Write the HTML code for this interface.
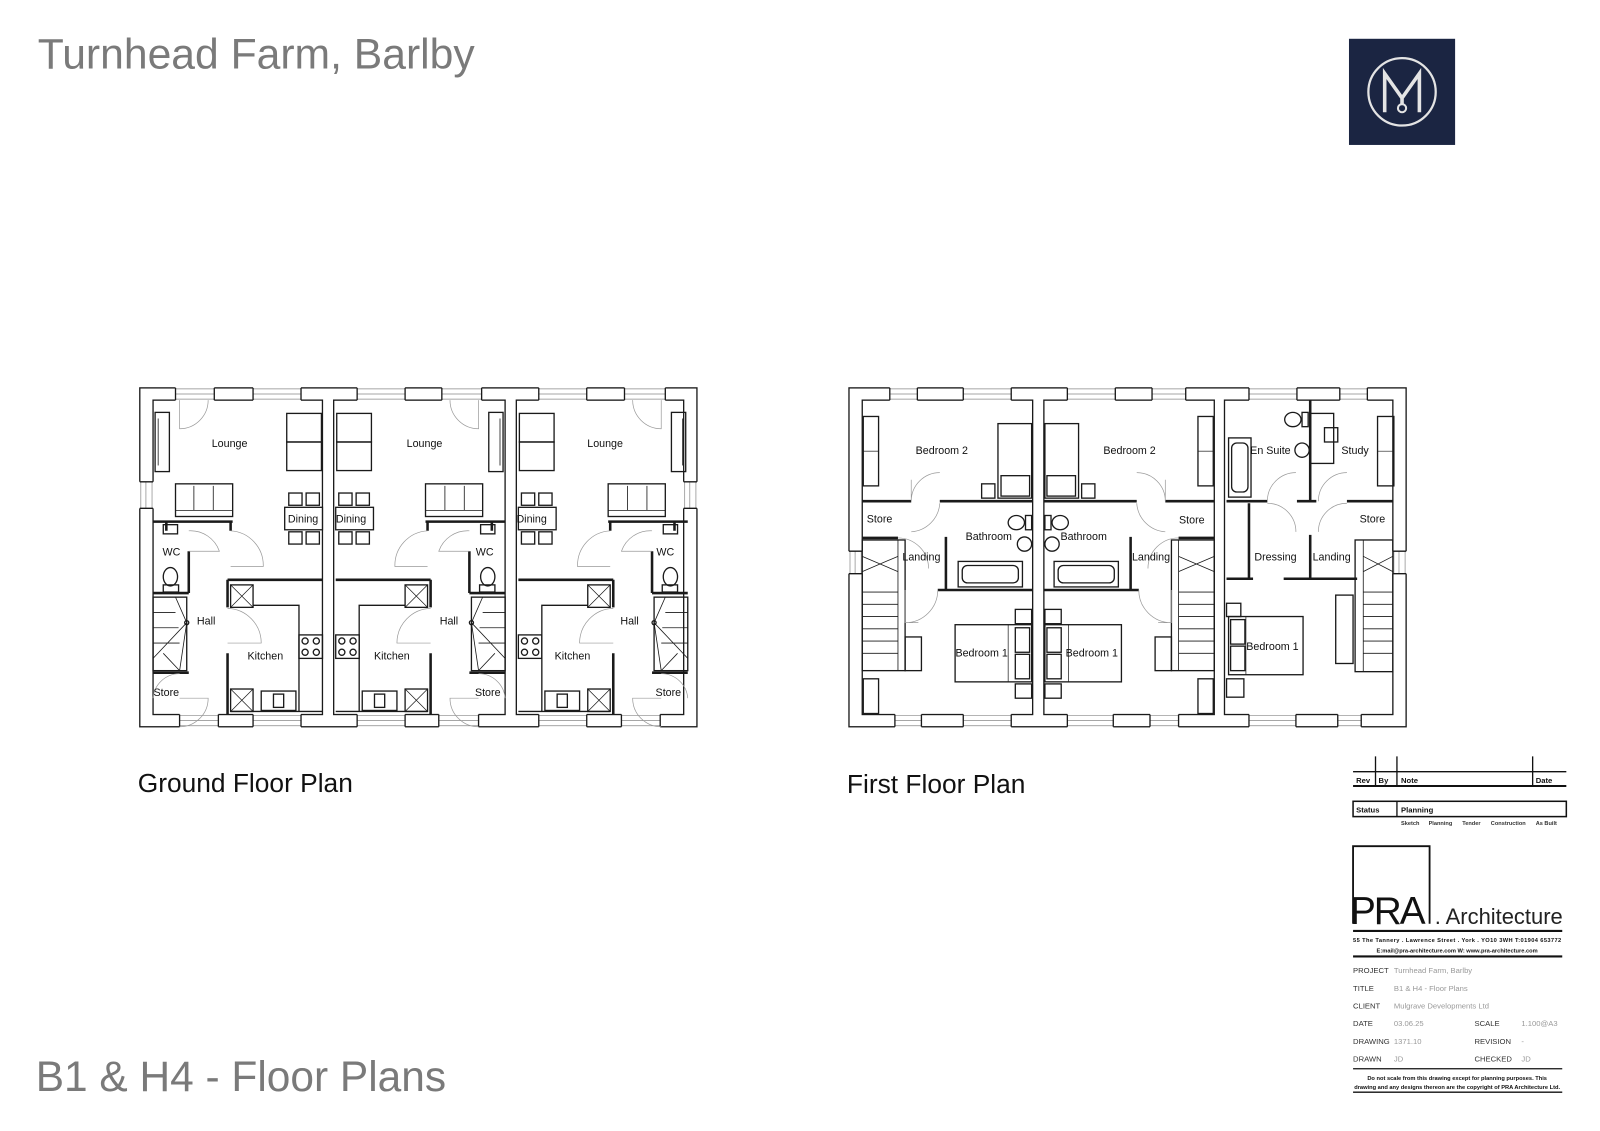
<!DOCTYPE html>
<html><head><meta charset="utf-8"><style>
html,body{margin:0;padding:0;background:#fff;}
svg{display:block;}
text{font-family:"Liberation Sans",Arial,sans-serif;}
</style></head><body>
<svg width="1600" height="1131" viewBox="0 0 1568 1108" preserveAspectRatio="none" xmlns="http://www.w3.org/2000/svg">
<rect width="1568" height="1108" fill="#fff"/>
<text x="37" y="67" font-size="41.8" fill="#7a7a7a">Turnhead Farm, Barlby</text>
<text x="35" y="1069" font-size="41.6" fill="#7a7a7a">B1 &amp; H4 - Floor Plans</text>
<text x="135" y="776" font-size="25.8" fill="#111">Ground Floor Plan</text>
<text x="830" y="777" font-size="25.8" fill="#111">First Floor Plan</text>

<!-- logo -->
<rect x="1322" y="38" width="104" height="104" fill="#1b2542"/>
<circle cx="1374" cy="90" r="33" fill="none" stroke="#e4e4e4" stroke-width="2.2"/>
<path d="M1357,110 V72 L1374,96 L1391,72 V110 M1374,96 V103" fill="none" stroke="#e4e4e4" stroke-width="3.5"/>
<circle cx="1374" cy="106" r="4" fill="none" stroke="#e4e4e4" stroke-width="2"/>

<g fill="none" stroke="#1a1a1a" stroke-width="1.3">
<!-- ========== GROUND FLOOR ========== -->
<rect x="137" y="380" width="546" height="332"/>
<rect x="150" y="392" width="166" height="308"/>
<rect x="327" y="392" width="168" height="308"/>
<rect x="506" y="392" width="164" height="308"/>
<path fill="#fff" stroke="none" d="M172,379h38v14h-38z M248,379h47v14h-47z M350,379h47v14h-47z M433,379h39v14h-39z M528,379h47v14h-47z M612,379h40v14h-40z M176,699h38v14h-38z M248,699h47v14h-47z M350,699h47v14h-47z M430,699h39v14h-39z M528,699h47v14h-47z M609,699h38v14h-38z M136,472h15v26h-15z M669,472h15v26h-15z"/>
<path stroke="#888" stroke-width="0.7" d="M172,381H210M172,386H210M172,391H210 M248,381H295M248,386H295M248,391H295 M350,381H397M350,386H397M350,391H397 M433,381H472M433,386H472M433,391H472 M528,381H575M528,386H575M528,391H575 M612,381H652M612,386H652M612,391H652 M176,701H214M176,706H214M176,711H214 M248,701H295M248,706H295M248,711H295 M350,701H397M350,706H397M350,711H397 M430,701H469M430,706H469M430,711H469 M528,701H575M528,706H575M528,711H575 M609,701H647M609,706H647M609,711H647 M138,472V498M143,472V498M149,472V498 M671,472V498M676,472V498M682,472V498"/>
<path d="M172,380V392M210,380V392M248,380V392M295,380V392M350,380V392M397,380V392M433,380V392M472,380V392M528,380V392M575,380V392M612,380V392M652,380V392 M176,700V712M214,700V712M248,700V712M295,700V712M350,700V712M397,700V712M430,700V712M469,700V712M528,700V712M575,700V712M609,700V712M647,700V712 M137,472H150M137,498H150M670,472H683M670,498H683"/>

<g id="gu">
 <path stroke="#999" stroke-width="0.7" d="M176,392V420 A28,28 0 0 0 204,392"/>
 <rect x="152" y="404" width="14" height="58"/>
 <path stroke-width="0.8" d="M155,410V456"/>
 <rect x="281" y="405" width="34" height="28"/><rect x="281" y="433" width="34" height="28"/>
 <rect x="172" y="474" width="56" height="32"/><path stroke-width="0.8" d="M172,500H228M190,476V500M209,476V500"/>
 <rect x="279" y="497" width="37" height="22" fill="#fff"/>
 <rect x="283" y="483" width="13" height="12"/><rect x="300" y="483" width="13" height="12"/>
 <rect x="283" y="521" width="13" height="12"/><rect x="300" y="521" width="13" height="12"/>
 <path stroke-width="2.5" d="M150,511H228M163,511V520M226,511V520M185,540V581M150,581H185M223,568H316M223,568V595M223,640V700M150,659H185"/>
 <rect x="160" y="514" width="14" height="9"/>
 <ellipse cx="167" cy="565" rx="7" ry="9"/><rect x="160" y="573" width="15" height="7"/>
 <path stroke="#999" stroke-width="0.7" d="M185,540 H215 A30,30 0 0 0 185,520 M226,520 A34,34 0 0 1 258,555 H226 M223,596 A34,34 0 0 1 256,630 H223 M150,684 A26,26 0 0 1 176,660 M176,712 A28,28 0 0 0 204,684 H176"/>
 <rect x="226" y="573" width="22" height="22"/><path stroke-width="0.7" d="M226,573L248,595M248,573L226,595 M226,675L248,697M248,675L226,697"/>
 <rect x="226" y="675" width="22" height="22"/>
 <path d="M248,593H293V697 M226,697H316"/>
 <rect x="293" y="622" width="23" height="23"/>
 <circle cx="299" cy="628" r="3"/><circle cx="310" cy="628" r="3"/><circle cx="299" cy="639" r="3"/><circle cx="310" cy="639" r="3"/>
 <rect x="256" y="677" width="34" height="19"/><rect x="268" y="680" width="10" height="13"/>
 <rect x="150" y="585" width="33" height="72"/>
 <path stroke-width="0.8" d="M150,600H172M150,615H175M150,630H176M172,585L183,610L176,657M183,610L150,645M176,657L160,640"/>
 <circle cx="183" cy="610" r="2"/>
</g>
<use href="#gu" transform="translate(645,0) scale(-1,1)"/>
<use href="#gu" transform="translate(824,0) scale(-1,1)"/>
</g>
<g font-size="10.5" fill="#111">
<text x="225" y="438" text-anchor="middle">Lounge</text>
<text x="416" y="438" text-anchor="middle">Lounge</text>
<text x="593" y="438" text-anchor="middle">Lounge</text>
<text x="297" y="512" text-anchor="middle">Dining</text>
<text x="344" y="512" text-anchor="middle">Dining</text>
<text x="521" y="512" text-anchor="middle">Dining</text>
<text x="168" y="544" text-anchor="middle">WC</text>
<text x="475" y="544" text-anchor="middle">WC</text>
<text x="652" y="544" text-anchor="middle">WC</text>
<text x="202" y="612" text-anchor="middle">Hall</text>
<text x="440" y="612" text-anchor="middle">Hall</text>
<text x="617" y="612" text-anchor="middle">Hall</text>
<text x="260" y="646" text-anchor="middle">Kitchen</text>
<text x="384" y="646" text-anchor="middle">Kitchen</text>
<text x="561" y="646" text-anchor="middle">Kitchen</text>
<text x="163" y="682" text-anchor="middle">Store</text>
<text x="478" y="682" text-anchor="middle">Store</text>
<text x="655" y="682" text-anchor="middle">Store</text>
</g>

<g fill="none" stroke="#1a1a1a" stroke-width="1.3">
<!-- ========== FIRST FLOOR ========== -->
<rect x="832" y="380" width="546" height="332"/>
<rect x="845" y="392" width="167" height="308"/>
<rect x="1023" y="392" width="167" height="308"/>
<rect x="1200" y="392" width="165" height="308"/>
<path fill="#fff" stroke="none" d="M872,379h27v14h-27z M944,379h47v14h-47z M1046,379h47v14h-47z M1129,379h33v14h-33z M1224,379h47v14h-47z M1313,379h27v14h-27z M877,699h26v14h-26z M944,699h47v14h-47z M1046,699h45v14h-45z M1127,699h28v14h-28z M1224,699h46v14h-46z M1311,699h23v14h-23z M831,540h15v22h-15z M1364,540h15v22h-15z"/>
<path stroke="#888" stroke-width="0.7" d="M872,381H899M872,386H899M872,391H899 M944,381H991M944,386H991M944,391H991 M1046,381H1093M1046,386H1093M1046,391H1093 M1129,381H1162M1129,386H1162M1129,391H1162 M1224,381H1271M1224,386H1271M1224,391H1271 M1313,381H1340M1313,386H1340M1313,391H1340 M877,701H903M877,706H903M877,711H903 M944,701H991M944,706H991M944,711H991 M1046,701H1091M1046,706H1091M1046,711H1091 M1127,701H1155M1127,706H1155M1127,711H1155 M1224,701H1270M1224,706H1270M1224,711H1270 M1311,701H1334M1311,706H1334M1311,711H1334 M833,540V562M838,540V562M844,540V562 M1366,540V562M1371,540V562M1377,540V562"/>
<path d="M872,380V392M899,380V392M944,380V392M991,380V392M1046,380V392M1093,380V392M1129,380V392M1162,380V392M1224,380V392M1271,380V392M1313,380V392M1340,380V392 M877,700V712M903,700V712M944,700V712M991,700V712M1046,700V712M1091,700V712M1127,700V712M1155,700V712M1224,700V712M1270,700V712M1311,700V712M1334,700V712 M832,540H845M832,562H845M1365,540H1378M1365,562H1378"/>

<g id="fu">
 <path stroke-width="2.5" d="M845,491H893M921,491H1012M845,527H880M927,526V578M919,578H1012"/>
 <rect x="846" y="408" width="15" height="68"/><path stroke-width="0.7" d="M846,442H861"/>
 <rect x="978" y="415" width="33" height="73"/><rect x="981" y="466" width="28" height="20"/>
 <rect x="962" y="474" width="13" height="14"/>
 <rect x="939" y="550" width="63" height="25"/><rect x="943" y="554" width="55" height="17" rx="5"/>
 <ellipse cx="996" cy="512" rx="8" ry="7"/><rect x="1005" y="505" width="6" height="14"/>
 <ellipse cx="1004" cy="533" rx="7" ry="7"/>
 <rect x="845" y="529" width="42" height="128"/>
 <path stroke-width="0.8" d="M880,529V657 M845,580H880M845,592H880M845,604H880M845,616H880M845,628H880M845,640H880 M845,545L880,560M845,560L880,545"/>
 <rect x="887" y="624" width="16" height="33"/>
 <rect x="846" y="665" width="15" height="34"/>
 <rect x="936" y="612" width="75" height="56"/><rect x="995" y="615" width="14" height="24"/><rect x="995" y="641" width="14" height="24"/>
 <path stroke-width="0.7" d="M988,612V668"/>
 <rect x="995" y="597" width="16" height="14"/><rect x="995" y="670" width="16" height="14"/>
 <path stroke="#999" stroke-width="0.7" d="M893,491 A28,28 0 0 1 921,463 M893,491 V470 M921,493 A30,30 0 0 1 893,521 M880,527 A30,30 0 0 1 910,557 M919,578 A32,32 0 0 1 887,610 M887,578 V610 H900"/>
</g>
<use href="#fu" transform="translate(2035,0) scale(-1,1)"/>

<!-- unit 3 first floor -->
<path stroke-width="2.5" d="M1284,392V491 M1202,491H1242M1271,491H1290M1320,491H1365 M1224,493V566 M1202,567H1228 M1284,524V566 M1258,567H1330"/>
<rect x="1204" y="429" width="22" height="58"/><rect x="1207" y="434" width="16" height="48" rx="5"/>
<ellipse cx="1267" cy="411" rx="8" ry="7"/><rect x="1276" y="404" width="6" height="14"/>
<ellipse cx="1276" cy="441" rx="7" ry="7"/>
<rect x="1284" y="405" width="23" height="49"/><rect x="1298" y="419" width="13" height="14"/>
<rect x="1350" y="408" width="16" height="68"/><path stroke-width="0.7" d="M1350,442H1366"/>
<rect x="1328" y="529" width="37" height="129"/>
<path stroke-width="0.8" d="M1336,529V658 M1336,580H1365M1336,592H1365M1336,604H1365M1336,616H1365M1336,628H1365M1336,640H1365 M1336,545L1365,560M1336,560L1365,545"/>
<rect x="1309" y="583" width="17" height="67"/>
<rect x="1204" y="604" width="73" height="57"/><rect x="1206" y="607" width="14" height="24"/><rect x="1206" y="633" width="14" height="24"/>
<path stroke-width="0.7" d="M1221,604V661"/>
<rect x="1202" y="591" width="14" height="13"/><rect x="1202" y="665" width="17" height="18"/>
<path stroke="#999" stroke-width="0.7" d="M1242,491 A28,28 0 0 1 1270,463 M1292,491 A28,28 0 0 1 1320,463 M1242,493 A28,28 0 0 1 1270,521 M1320,493 A28,28 0 0 0 1292,521"/>
</g>
<g font-size="10.5" fill="#111">
<text x="923" y="445" text-anchor="middle">Bedroom 2</text>
<text x="1107" y="445" text-anchor="middle">Bedroom 2</text>
<text x="862" y="512" text-anchor="middle">Store</text>
<text x="1168" y="513" text-anchor="middle">Store</text>
<text x="1345" y="512" text-anchor="middle">Store</text>
<text x="969" y="529" text-anchor="middle">Bathroom</text>
<text x="1062" y="529" text-anchor="middle">Bathroom</text>
<text x="903" y="549" text-anchor="middle">Landing</text>
<text x="1128" y="549" text-anchor="middle">Landing</text>
<text x="1305" y="549" text-anchor="middle">Landing</text>
<text x="1250" y="549" text-anchor="middle">Dressing</text>
<text x="962" y="643" text-anchor="middle">Bedroom 1</text>
<text x="1070" y="643" text-anchor="middle">Bedroom 1</text>
<text x="1247" y="637" text-anchor="middle">Bedroom 1</text>
<text x="1245" y="445" text-anchor="middle">En Suite</text>
<text x="1328" y="445" text-anchor="middle">Study</text>
</g>

<!-- title block -->
<g stroke="#111" fill="none">
<path stroke-width="1.3" d="M1326,756H1535 M1348,741V770 M1369,741V770 M1502,741V770"/>
<path stroke-width="2" d="M1326,770H1535"/>
<rect x="1326" y="785" width="209" height="15" stroke-width="1.5"/>
<path stroke-width="1.3" d="M1369,785V800"/>
<path stroke-width="1.8" d="M1326,905V829H1401V905"/>
<path stroke-width="2" d="M1326,912H1531 M1326,937H1531"/>
<path stroke-width="1.3" d="M1326,1047H1531 M1326,1070H1531"/>
</g>
<g font-size="7.5" font-weight="bold" fill="#111">
<text x="1329" y="767">Rev</text><text x="1351" y="767">By</text><text x="1373" y="767">Note</text><text x="1505" y="767">Date</text>
<text x="1329" y="796">Status</text><text x="1373" y="796">Planning</text>
</g>
<g font-size="5.5" font-weight="bold" fill="#333">
<text x="1373" y="808">Sketch</text><text x="1400" y="808">Planning</text><text x="1433" y="808">Tender</text><text x="1461" y="808">Construction</text><text x="1505" y="808">As Built</text>
</g>
<text x="1323" y="905" font-size="38" fill="#111" letter-spacing="-2">PRA</text>
<text x="1406" y="905" font-size="21.5" fill="#222">. Architecture</text>
<g font-size="5.6" font-weight="bold" fill="#111" text-anchor="middle">
<text x="1428" y="923" textLength="204">55 The Tannery . Lawrence Street . York . YO10 3WH  T:01904 653772</text>
<text x="1428" y="933">E:mail@pra-architecture.com       W: www.pra-architecture.com</text>
<text x="1428" y="1058">Do not scale from this drawing except for planning purposes. This</text>
<text x="1428" y="1067">drawing and any designs thereon are the copyright of PRA Architecture Ltd.</text>
</g>
<g font-size="7.5" fill="#333">
<text x="1326" y="953">PROJECT</text><text x="1326" y="971">TITLE</text><text x="1326" y="988">CLIENT</text>
<text x="1326" y="1005">DATE</text><text x="1326" y="1023">DRAWING</text><text x="1326" y="1040">DRAWN</text>
<text x="1445" y="1005">SCALE</text><text x="1445" y="1023">REVISION</text><text x="1445" y="1040">CHECKED</text>
</g>
<g font-size="7.5" fill="#999">
<text x="1366" y="953">Turnhead Farm, Barlby</text><text x="1366" y="971">B1 &amp; H4 - Floor Plans</text><text x="1366" y="988">Mulgrave Developments Ltd</text>
<text x="1366" y="1005">03.06.25</text><text x="1366" y="1023">1371.10</text><text x="1366" y="1040">JD</text>
<text x="1491" y="1005">1.100@A3</text><text x="1491" y="1023">-</text><text x="1491" y="1040">JD</text>
</g>
</svg>
</body></html>
